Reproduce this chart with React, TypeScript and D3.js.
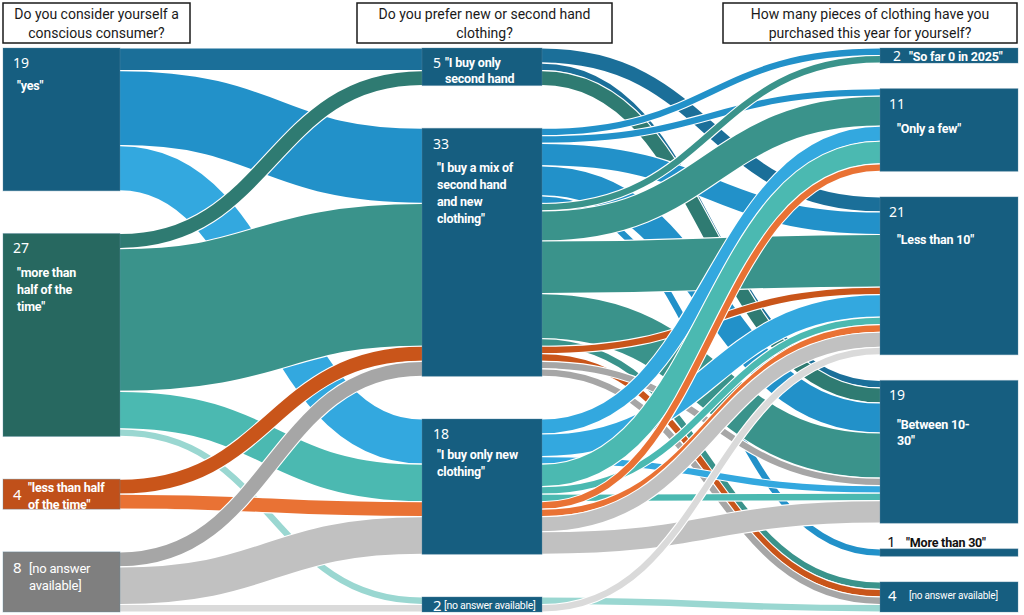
import React from 'react';
import * as d3 from 'd3';

type Flow = [string, string, string, number];

const W = 1024;
const H = 615;

// stage 1: "Do you consider yourself a conscious consumer?"
const consciousKeys = ['yes', 'more', 'less', 'none'];
const consciousLabels = [
  ['"yes"'],
  ['"more than', 'half of the', 'time"'],
  ['"less than half', 'of the time"'],
  ['[no answer', 'available]'],
];

// stage 2: "Do you prefer new or second hand clothing?"
const preferKeys = ['second', 'mix', 'new', 'none'];
const preferLabels = [
  ['"I buy only', 'second hand'],
  ['"I buy a mix of', 'second hand', 'and new', 'clothing"'],
  ['"I buy only new', 'clothing"'],
  ['[no answer available]'],
];

// stage 3: "How many pieces of clothing have you purchased this year?"
const piecesKeys = ['zero', 'few', 'lt10', 'mid', 'gt30', 'none'];
const piecesLabels = [
  ['"So far 0 in 2025"'],
  ['"Only a few"'],
  ['"Less than 10"'],
  ['"Between 10-', '30"'],
  ['"More than 30"'],
  ['[no answer available]'],
];

const headers = [
  ['Do you consider yourself a', 'conscious consumer?'],
  ['Do you prefer new or second hand', 'clothing?'],
  ['How many pieces of clothing have you', 'purchased this year for yourself?'],
];

// respondents per path: [stage1, stage2, stage3, count]
const yesFlows: Flow[] = [
  ['yes', 'second', 'lt10', 2], ['yes', 'second', 'mid', 1],
  ['yes', 'mix', 'zero', 1], ['yes', 'mix', 'few', 1], ['yes', 'mix', 'lt10', 3], ['yes', 'mix', 'mid', 4], ['yes', 'mix', 'gt30', 1],
  ['yes', 'new', 'few', 2], ['yes', 'new', 'lt10', 3], ['yes', 'new', 'mid', 1],
];
const moreFlows: Flow[] = [
  ['more', 'second', 'mid', 2],
  ['more', 'mix', 'zero', 1], ['more', 'mix', 'few', 4], ['more', 'mix', 'lt10', 7], ['more', 'mix', 'mid', 6], ['more', 'mix', 'none', 1],
  ['more', 'new', 'few', 3], ['more', 'new', 'lt10', 1], ['more', 'new', 'mid', 1],
  ['more', 'none', 'none', 1],
];
const lessFlows: Flow[] = [
  ['less', 'mix', 'lt10', 1], ['less', 'mix', 'none', 1],
  ['less', 'new', 'few', 1], ['less', 'new', 'lt10', 1],
];
const noneFlows: Flow[] = [
  ['none', 'mix', 'mid', 1], ['none', 'mix', 'none', 1],
  ['none', 'new', 'lt10', 2], ['none', 'new', 'mid', 3],
  ['none', 'none', 'lt10', 1],
];

const allFlows = [...yesFlows, ...moreFlows, ...lessFlows, ...noneFlows];

const streamColors: Record<string, string> = {
  'yes|second': '#1b6f99',
  'yes|mix': '#2291c9',
  'yes|new': '#33a8df',
  'more|second': '#2f7b72',
  'more|mix': '#3a938b',
  'more|new': '#4bb9b1',
  'more|none': '#9ad7d1',
  'less|mix': '#c9551a',
  'less|new': '#e97234',
  'none|mix': '#a6a6a6',
  'none|new': '#c1c1c1',
  'none|none': '#dadada',
};
const consciousFill: Record<string, string> = { yes: '#165e80', more: '#276860', less: '#c0501a', none: '#7f7f7f' };
const nodeFill = '#165e80';

const TOP = 48;
const BOTTOM = 612;
const cols = [
  { x0: 3, x1: 120 },
  { x0: 422, x1: 542 },
  { x0: 880, x1: 1018 },
];
const headerBoxes = [
  { x: 3, w: 187 },
  { x: 357, w: 255 },
  { x: 723, w: 294 },
];

// label placement relative to the node's top-left corner
type LabelPos = { nx: number; ny: number; ns?: number; tx: number; ty: number; lh?: number; ts?: number; bold?: boolean; dark?: boolean; ls?: number };
const labelPos: Record<string, LabelPos> = {
  '0|yes': { nx: 10, ny: 20, tx: 14, ty: 42 },
  '0|more': { nx: 10, ny: 20, tx: 14, ty: 44 },
  '0|less': { nx: 10, ny: 21, ns: 15, tx: 25, ty: 13 },
  '0|none': { nx: 10, ny: 21, ns: 15, tx: 26, ty: 21, ts: 13, bold: false },
  '1|second': { nx: 11, ny: 20, tx: 23, ty: 19, lh: 16 },
  '1|mix': { nx: 11, ny: 21, tx: 15, ty: 44 },
  '1|new': { nx: 11, ny: 20, tx: 15, ty: 40 },
  '1|none': { nx: 11, ny: 14, ns: 15, tx: 22, ty: 12, ts: 10.5, bold: false, ls: -0.3 },
  '2|zero': { nx: 13, ny: 13, tx: 29, ty: 13 },
  '2|few': { nx: 9, ny: 20, tx: 17, ty: 44 },
  '2|lt10': { nx: 9, ny: 20, tx: 17, ty: 47 },
  '2|mid': { nx: 9, ny: 20, tx: 17, ty: 49, lh: 16 },
  '2|gt30': { nx: 7, ny: -2, ns: 15, tx: 26, ty: -2, dark: true },
  '2|none': { nx: 8, ny: 19, ns: 15, tx: 29, ty: 17, ts: 10, bold: false },
};

const numFont = "'Noto Sans', sans-serif";
const labelFont = "'Roboto', sans-serif";

export default function App() {
  const total = d3.sum(allFlows, (d) => d[3]);
  const h = d3.scaleLinear().domain([0, total]).range([0, 436]);

  const stageKeys = [consciousKeys, preferKeys, piecesKeys];
  const stageLabels = [consciousLabels, preferLabels, piecesLabels];

  const nodes = stageKeys.map((keys, si) => {
    const sums = keys.map((k) => d3.sum(allFlows.filter((f) => f[si] === k), (f) => f[3]));
    const pad = (BOTTOM - TOP - h(d3.sum(sums))) / (keys.length - 1);
    let y = TOP;
    return keys.map((k, i) => {
      const n = { key: k, stage: si, value: sums[i], x0: cols[si].x0, x1: cols[si].x1, y0: y, y1: y + h(sums[i]), lines: stageLabels[si][i] };
      y = n.y1 + pad;
      return n;
    });
  });
  const nodeOf = (si: number, k: string) => nodes[si].find((n) => n.key === k)!;

  // first hop: stage1 -> stage2, summed per pair
  const pairVals = d3.rollup(allFlows, (v) => d3.sum(v, (d) => d[3]), (d) => d[0], (d) => d[1]);
  const aSrc = new Map<string, number>();
  const aTgt = new Map<string, number>();
  consciousKeys.forEach((a) => {
    let y = nodeOf(0, a).y0;
    preferKeys.forEach((b) => {
      const v = pairVals.get(a)?.get(b);
      if (v) { aSrc.set(a + '|' + b, y + h(v) / 2); y += h(v); }
    });
  });
  preferKeys.forEach((b) => {
    let y = nodeOf(1, b).y0;
    consciousKeys.forEach((a) => {
      const v = pairVals.get(a)?.get(b);
      if (v) { aTgt.set(a + '|' + b, y + h(v) / 2); y += h(v); }
    });
  });
  const linksA: { d: string; w: number; color: string }[] = [];
  const linkGen = d3.linkHorizontal<any, [number, number]>().source((d: any) => d.s).target((d: any) => d.t);
  consciousKeys.forEach((a) => preferKeys.forEach((b) => {
    const v = pairVals.get(a)?.get(b);
    if (!v) return;
    const key = a + '|' + b;
    linksA.push({
      d: linkGen({ s: [cols[0].x1, aSrc.get(key)!], t: [cols[1].x0, aTgt.get(key)!] }) as string,
      w: h(v),
      color: streamColors[key],
    });
  }));

  // second hop: stage2 -> stage3, one ribbon per full path
  const findFlow = (a: string, b: string, c: string) => allFlows.find((f) => f[0] === a && f[1] === b && f[2] === c);
  const bSrc = new Map<string, number>();
  const bTgt = new Map<string, number>();
  preferKeys.forEach((b) => {
    let y = nodeOf(1, b).y0;
    consciousKeys.forEach((a) => piecesKeys.forEach((c) => {
      const f = findFlow(a, b, c);
      if (f) { bSrc.set(`${a}|${b}|${c}`, y + h(f[3]) / 2); y += h(f[3]); }
    }));
  });
  piecesKeys.forEach((c) => {
    let y = nodeOf(2, c).y0;
    preferKeys.forEach((b) => consciousKeys.forEach((a) => {
      const f = findFlow(a, b, c);
      if (f) { bTgt.set(`${a}|${b}|${c}`, y + h(f[3]) / 2); y += h(f[3]); }
    }));
  });
  const linksB: { d: string; w: number; color: string }[] = [];
  preferKeys.forEach((b) => consciousKeys.forEach((a) => piecesKeys.forEach((c) => {
    const f = findFlow(a, b, c);
    if (!f) return;
    const key = `${a}|${b}|${c}`;
    linksB.push({
      d: linkGen({ s: [cols[1].x1, bSrc.get(key)!], t: [cols[2].x0, bTgt.get(key)!] }) as string,
      w: h(f[3]),
      color: streamColors[a + '|' + b],
    });
  })));

  const renderLink = (l: { d: string; w: number; color: string }, i: number) => (
    <g key={i}>
      <path d={l.d} fill="none" stroke="#fff" strokeWidth={l.w + 1} />
      <path d={l.d} fill="none" stroke={l.color} strokeWidth={Math.max(l.w - 1.2, 1)} />
    </g>
  );

  return (
    <>
      <style>{'body{margin:0}'}</style>
      <svg width={W} height={H} style={{ display: 'block', background: '#fff' }}>
        {headers.map((lines, i) => (
          <g key={i}>
            <rect x={headerBoxes[i].x} y={3} width={headerBoxes[i].w} height={40} fill="#fff" stroke="#1a1a1a" strokeWidth={1.5} />
            {lines.map((t, j) => (
              <text key={j} x={headerBoxes[i].x + headerBoxes[i].w / 2} y={19 + j * 19} textAnchor="middle"
                fontFamily="'Roboto', sans-serif" fontSize={14} fill="#1a1a1a">{t}</text>
            ))}
          </g>
        ))}

        <g>{linksA.map(renderLink)}</g>
        <g>{linksB.map(renderLink)}</g>

        {nodes.flat().map((n) => {
          const p = labelPos[`${n.stage}|${n.key}`];
          const fill = n.stage === 0 ? consciousFill[n.key] : nodeFill;
          const txtColor = p.dark ? '#111' : '#fff';
          const lh = p.lh ?? 17;
          return (
            <g key={`${n.stage}-${n.key}`}>
              <rect x={n.x0} y={n.y0} width={n.x1 - n.x0} height={n.y1 - n.y0} fill={fill} stroke="#5b8aa3" strokeOpacity={0.35} strokeWidth={1} />
              <text x={n.x0 + p.nx} y={n.y0 + p.ny} fontFamily={numFont} fontSize={p.ns ?? 14} fill={txtColor}>{n.value}</text>
              {n.lines.map((t, j) => (
                <text key={j} x={n.x0 + p.tx} y={n.y0 + p.ty + j * lh} fontFamily={labelFont} letterSpacing={p.ls ?? -0.2}
                  fontWeight={p.bold === false ? 400 : 700} fontSize={p.ts ?? 12.5} fill={txtColor}>{t}</text>
              ))}
            </g>
          );
        })}
      </svg>
    </>
  );
}
